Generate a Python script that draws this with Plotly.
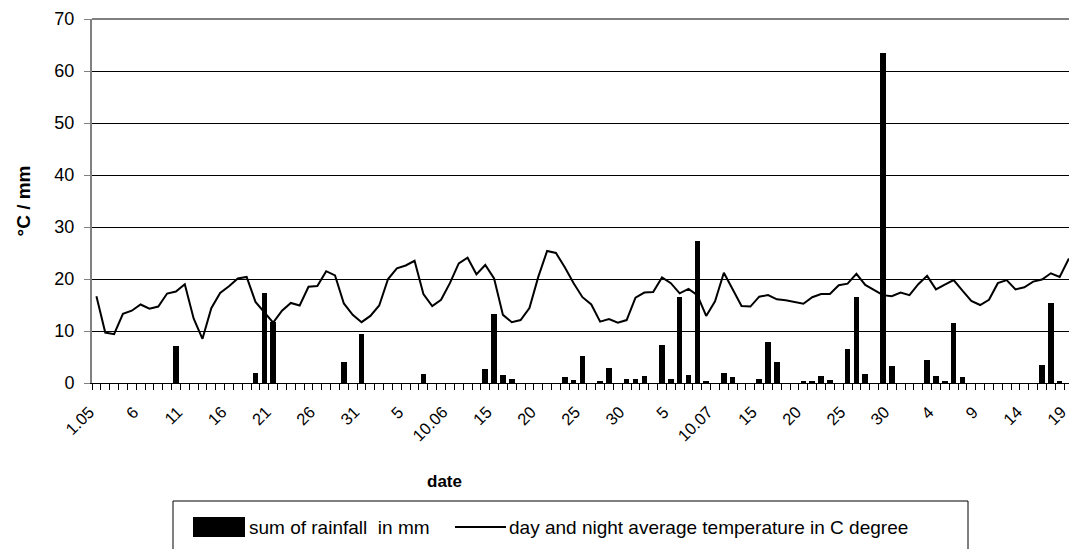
import plotly.graph_objects as go

# daily values, 1 May .. 20 Aug (index 0 = 1.05)
rain_mm = [
    0, 0, 0, 0, 0, 0, 0, 0, 0, 7.2,
    0, 0, 0, 0, 0, 0, 0, 0, 2.0, 17.4,
    11.7, 0, 0, 0, 0, 0, 0, 0, 4.1, 0,
    9.4, 0, 0, 0, 0, 0, 0, 1.7, 0, 0,
    0, 0, 0, 0, 2.7, 13.2, 1.6, 0.85, 0, 0,
    0, 0, 0, 1.1, 0.5, 5.1, 0, 0.3, 2.9, 0,
    0.8, 0.8, 1.4, 0, 7.3, 0.85, 16.5, 1.5, 27.4, 0.45,
    0, 2.0, 1.2, 0, 0, 0.8, 7.8, 4.1, 0, 0,
    0.45, 0.2, 1.4, 0.6, 0, 6.5, 16.6, 1.7, 0, 63.5,
    3.3, 0, 0, 0, 4.4, 1.3, 0.2, 11.6, 1.25, 0,
    0, 0, 0, 0, 0, 0, 0, 3.5, 15.4, 0.3,
    0, 3.65,
]
temp_c = [
    16.7, 9.7, 9.4, 13.3, 13.9, 15.1, 14.3, 14.7, 17.2, 17.6,
    19.0, 12.4, 8.5, 14.4, 17.3, 18.6, 20.1, 20.4, 15.6, 13.5,
    11.6, 13.9, 15.4, 14.9, 18.5, 18.65, 21.5, 20.7, 15.3, 13.1,
    11.7, 12.9, 14.9, 20.0, 22.05, 22.6, 23.5, 17.1, 14.8, 16.0,
    19.2, 23.0, 24.1, 20.9, 22.7, 20.1, 13.1, 11.7, 12.1, 14.4,
    20.4, 25.4, 25.0, 22.25, 19.2, 16.5, 15.1, 11.8, 12.3, 11.6,
    12.1, 16.4, 17.4, 17.5, 20.3, 19.2, 17.25, 18.1, 16.9, 12.9,
    15.7, 21.2, 18.0, 14.8, 14.7, 16.6, 16.9, 16.1, 15.9, 15.6,
    15.25, 16.5, 17.1, 17.1, 18.8, 19.1, 21.0, 18.85, 17.9, 16.9,
    16.7, 17.4, 16.9, 19.0, 20.6, 18.0, 18.9, 19.8, 17.75, 15.8,
    15.0, 16.0, 19.2, 19.8, 18.0, 18.4, 19.5, 19.9, 21.1, 20.4,
    23.8, 23.85,
]
tick_labels = ["1.05", "6", "11", "16", "21", "26", "31", "5", "10.06", "15",
               "20", "25", "30", "5", "10.07", "15", "20", "25", "30", "4",
               "9", "14", "19"]

days = list(range(len(temp_c)))
tick_pos = days[::5][:len(tick_labels)]

FONT = "Liberation Sans, Arial, sans-serif"
BODY = 8                        # default page margin around the plot div
W, H = 1077 - BODY, 549 - BODY
L, T, B, R = 92, 19, 383, 1077  # plot box in page px (right edge = page edge)


def px_x(x):
    return (x - L) / (R - L)


def px_y(y):
    return (B - y) / (B - T)


fig = go.Figure()
fig.add_trace(go.Bar(x=days, y=rain_mm, width=0.63, marker_color="#000000",
                     marker_line_width=0, name="sum of rainfall  in mm"))
fig.add_trace(go.Scatter(x=days, y=temp_c, mode="lines",
                         line=dict(color="#000000", width=2),
                         name="day and night average temperature in C degree"))

# legend drawn by hand (Excel style box with wide swatches)
LEG_FONT = dict(family=FONT, size=19, color="#000000")
shapes = [
    dict(type="rect", xref="paper", yref="paper", x0=px_x(173), x1=px_x(968),
         y0=px_y(501), y1=px_y(570), line=dict(color="#000000", width=1),
         fillcolor="rgba(0,0,0,0)"),
    dict(type="rect", xref="paper", yref="paper", x0=px_x(193), x1=px_x(245),
         y0=px_y(517), y1=px_y(537), line=dict(width=0), fillcolor="#000000"),
    dict(type="line", xref="paper", yref="paper", x0=px_x(455), x1=px_x(506),
         y0=px_y(527), y1=px_y(527), line=dict(color="#000000", width=2)),
    # plot area border on top
    dict(type="line", xref="paper", yref="paper", x0=0, x1=1, y0=1, y1=1,
         line=dict(color="#808080", width=2)),
]
annotations = [
    dict(text="sum of rainfall  in mm", xref="paper", yref="paper",
         x=px_x(247), y=px_y(527), xanchor="left", yanchor="middle",
         showarrow=False, font=LEG_FONT),
    dict(text="day and night average temperature in C degree", xref="paper",
         yref="paper", x=px_x(507), y=px_y(527), xanchor="left",
         yanchor="middle", showarrow=False, font=LEG_FONT),
    dict(text="<b>date</b>", xref="paper", yref="paper", x=px_x(444),
         y=px_y(481), xanchor="center", yanchor="middle", showarrow=False,
         font=dict(family=FONT, size=17, color="#000000")),
]

fig.update_layout(
    width=W, height=H,
    margin=dict(l=L - BODY, r=0, t=T - BODY, b=H - (B - BODY), pad=0),
    paper_bgcolor="#ffffff", plot_bgcolor="#ffffff",
    font=dict(family=FONT, size=16, color="#000000"),
    bargap=0, showlegend=False,
    shapes=shapes, annotations=annotations,
    xaxis=dict(range=[-0.5, 110.96], tickmode="array", tickvals=tick_pos,
               ticktext=tick_labels, tickangle=-45, ticks="outside",
               ticklen=6, tickcolor="rgba(0,0,0,0)",
               ticklabelshift=-7, ticklabelstandoff=6,
               minor=dict(ticks="outside", tick0=-0.5, dtick=1, ticklen=6,
                          tickcolor="#000000", showgrid=False),
               showgrid=False, zeroline=False, showline=True,
               linecolor="#000000", linewidth=1,
               tickfont=dict(size=16.5)),
    yaxis=dict(range=[0, 70], dtick=10, showgrid=True, gridcolor="#000000",
               gridwidth=1, zeroline=False, showline=True, linecolor="#808080",
               linewidth=2, ticks="outside", ticklen=6, tickcolor="#808080",
               ticklabelstandoff=6, tickfont=dict(size=18),
               title=dict(text="<b>°C / mm</b>", standoff=19,
                          font=dict(size=19))),
)

fig.write_html("out.html")
